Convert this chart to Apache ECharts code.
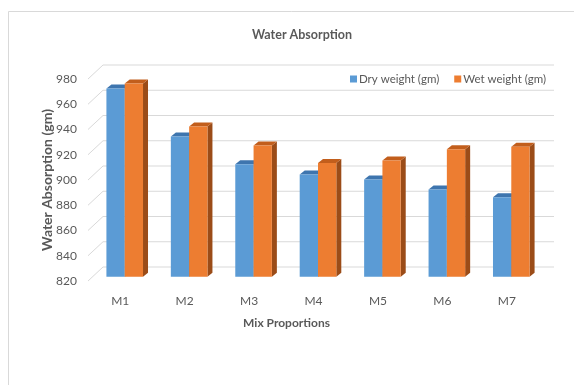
<!DOCTYPE html>
<html>
<head>
<meta charset="utf-8">
<script src="https://cdn.jsdelivr.net/npm/echarts@6/dist/echarts.min.js"></script>
<style>
  html, body { margin: 0; padding: 0; background: #ffffff; }
  #chart { width: 574px; height: 385px; }
</style>
</head>
<body>
<div id="chart"></div>
<script>
// Mix proportions and measured weights
const mixes = ['M1', 'M2', 'M3', 'M4', 'M5', 'M6', 'M7'];
const dryWeight = [969, 931, 909, 901, 897, 889, 883];
const wetWeight = [973, 939, 924, 910, 912, 921, 923];
const yTicks = [820, 840, 860, 880, 900, 920, 940, 960, 980];

const FONT = 'Lato, "Open Sans", sans-serif';
const TEXT = '#595959';

// pseudo-3D geometry (pixels)
const WALL_DX = 15, WALL_DY = 14;   // back wall offset from the front plane
const BAR_DX = 4.5, BAR_DY = 4.3;   // bar front face offset from the front plane
const DEPTH_DX = 5, DEPTH_DY = 4;   // bar depth
const BAR_FRAC = 0.284;             // bar width as a share of the category band

const faces = [
  { front: '#5B9BD5', top: '#3E75AE', side: '#2F5F8F' },
  { front: '#ED7D31', top: '#C25E1C', side: '#9B4C18' }
];

function bar3d(params, api) {
  const s = params.seriesIndex - 1;               // 0 = dry, 1 = wet
  const idx = api.value(0);
  const top = api.coord([idx, api.value(1)]);
  const base = api.coord([idx, yTicks[0]]);
  const w = api.size([1, 0])[0] * BAR_FRAC;
  const x0 = top[0] + BAR_DX + (s === 0 ? -w : 0);
  const x1 = x0 + w;
  const yT = top[1] - BAR_DY;
  const yB = base[1] - BAR_DY;
  const c = faces[s];
  return {
    type: 'group',
    children: [
      { type: 'polygon', shape: { points: [[x1, yT], [x1 + DEPTH_DX, yT - DEPTH_DY], [x1 + DEPTH_DX, yB - DEPTH_DY], [x1, yB]] },
        style: { fill: c.side } },
      { type: 'polygon', shape: { points: [[x0, yT], [x0 + DEPTH_DX, yT - DEPTH_DY], [x1 + DEPTH_DX, yT - DEPTH_DY], [x1, yT]] },
        style: { fill: c.top } },
      { type: 'rect', shape: { x: x0, y: yT, width: w, height: yB - yT }, style: { fill: c.front } }
    ]
  };
}

function wallLine(params, api) {
  const cs = params.coordSys;
  const y = api.coord([0, api.value(0)])[1];
  const xL = cs.x, xR = cs.x + cs.width;
  return {
    type: 'polyline',
    shape: { points: [[xL, y], [xL + WALL_DX, y - WALL_DY], [xR + WALL_DX, y - WALL_DY]] },
    style: { stroke: '#d9d9d9', lineWidth: 1, fill: null }
  };
}

const chart = echarts.init(document.getElementById('chart'), null, { renderer: 'canvas' });
chart.setOption({
  backgroundColor: '#ffffff',
  animation: false,
  graphic: [{
    type: 'rect', left: 6, top: 9, silent: true,
    shape: { width: 620, height: 420 },
    style: { fill: null, stroke: '#d9d9d9', lineWidth: 1 }
  }],
  title: {
    text: 'Water Absorption', left: 247, top: 23,
    textStyle: { fontFamily: FONT, fontSize: 12.5, fontWeight: 'bold', color: TEXT }
  },
  legend: {
    left: 345, top: 68, itemWidth: 7, itemHeight: 7, itemGap: 15,
    icon: 'rect',
    data: ['Dry weight (gm)', 'Wet weight (gm)'],
    textStyle: { fontFamily: FONT, fontSize: 11.5, color: TEXT, padding: [0, 0, 0, -3] }
  },
  grid: { left: 88, right: 35, top: 79, bottom: 104 },
  xAxis: {
    type: 'category', data: mixes,
    name: 'Mix Proportions', nameLocation: 'middle', nameGap: 36, nameMoveOverlap: false,
    nameTextStyle: { fontFamily: FONT, fontSize: 12, fontWeight: 'bold', color: TEXT, padding: [0, 54, 0, 0] },
    axisLine: { show: false }, axisTick: { show: false },
    axisLabel: { margin: 14, fontFamily: FONT, fontSize: 12, color: TEXT }
  },
  yAxis: {
    type: 'value', min: yTicks[0], max: yTicks[yTicks.length - 1], interval: 20,
    name: 'Water Absorption (gm)', nameLocation: 'middle', nameGap: 34, nameMoveOverlap: false,
    nameTextStyle: { fontFamily: FONT, fontSize: 14, fontWeight: 'bold', color: TEXT },
    axisLine: { show: false }, axisTick: { show: false }, splitLine: { show: false },
    axisLabel: { margin: 11, fontFamily: FONT, fontSize: 12, color: TEXT }
  },
  series: [
    { type: 'custom', name: 'wall', silent: true, z: 1, renderItem: wallLine,
      data: yTicks.map(v => [v]), encode: { y: 0 } },
    { type: 'custom', name: 'Dry weight (gm)', z: 2, renderItem: bar3d,
      itemStyle: { color: faces[0].front },
      data: dryWeight.map((v, i) => [i, v]), encode: { x: 0, y: 1 } },
    { type: 'custom', name: 'Wet weight (gm)', z: 3, renderItem: bar3d,
      itemStyle: { color: faces[1].front },
      data: wetWeight.map((v, i) => [i, v]), encode: { x: 0, y: 1 } }
  ]
});
</script>
</body>
</html>
